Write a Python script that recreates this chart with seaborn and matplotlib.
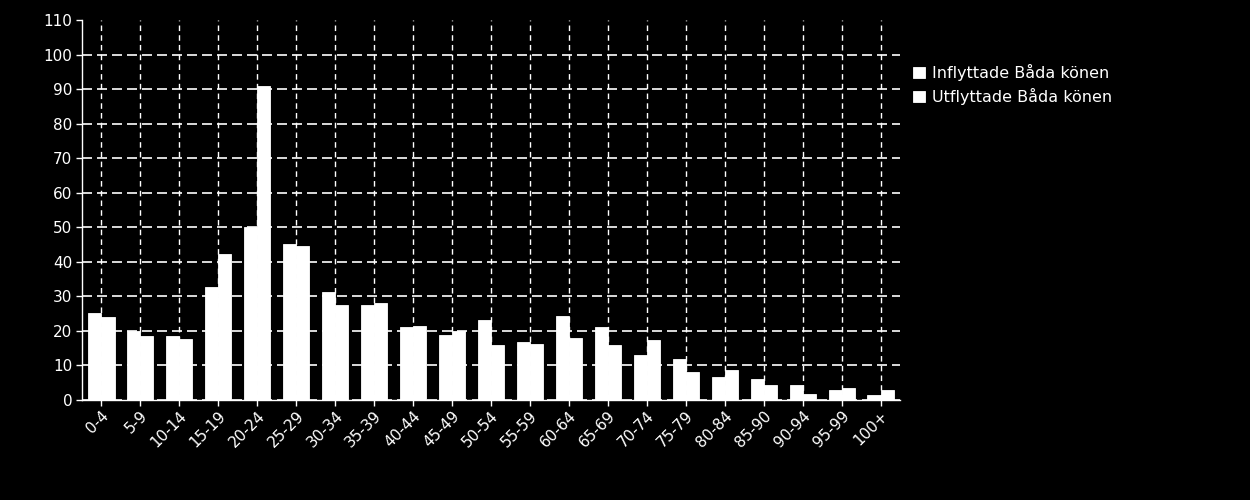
import matplotlib
matplotlib.use("Agg")
import matplotlib.pyplot as plt
import seaborn as sns
import pandas as pd

# Åldersgrupper och värden avlästa från referensbilden
age_groups = ["0-4", "5-9", "10-14", "15-19", "20-24", "25-29", "30-34", "35-39",
              "40-44", "45-49", "50-54", "55-59", "60-64", "65-69", "70-74",
              "75-79", "80-84", "85-90", "90-94", "95-99", "100+"]
inflyttade = [25.2, 20.0, 18.5, 32.7, 50.0, 45.2, 31.3, 27.5, 21.1, 18.8, 23.2,
              16.8, 24.3, 21.1, 13.0, 11.9, 6.7, 6.1, 4.3, 2.9, 1.4]
utflyttade = [24.0, 18.5, 17.7, 42.3, 91.0, 44.6, 27.5, 28.1, 21.4, 20.0, 15.9,
              16.2, 18.0, 15.9, 17.4, 8.1, 8.7, 4.3, 1.7, 3.5, 2.9]
series_names = ["Inflyttade Båda könen", "Utflyttade Båda könen"]

df = pd.DataFrame({
    "age": age_groups * 2,
    "value": inflyttade + utflyttade,
    "series": [series_names[0]] * len(age_groups) + [series_names[1]] * len(age_groups),
})

sns.set_style("dark")
plt.rcParams["font.family"] = ["DejaVu Sans"]

fig = plt.figure(figsize=(12.5, 5), dpi=100, facecolor="black")
ax = fig.add_axes([0.0656, 0.2, 0.6544, 0.76])
ax.set_facecolor("black")

sns.barplot(data=df, x="age", y="value", hue="series", order=age_groups,
            palette=["white", "white"], width=0.67, saturation=1,
            edgecolor="white", linewidth=0.6, ax=ax)

ax.set_ylim(0, 110)
ax.set_yticks(range(0, 111, 10))
ax.set_xlim(-0.5, len(age_groups) - 0.5)
ax.xaxis.grid(True, color="white", linestyle=(0, (4, 3)), linewidth=1)
ax.yaxis.grid(True, color="white", linestyle=(0, (6, 3)), linewidth=1.2)
ax.set_axisbelow(True)
# ingen stödlinje överst vid 110
ax.yaxis.get_gridlines()[-1].set_visible(False)

for side in ["top", "right"]:
    ax.spines[side].set_visible(False)
for side in ["left", "bottom"]:
    ax.spines[side].set_visible(True)
    ax.spines[side].set_color("white")
    ax.spines[side].set_linewidth(1)

ax.tick_params(axis="y", colors="white", labelsize=11, length=4, width=1, pad=3, left=True)
ax.tick_params(axis="x", colors="white", labelsize=11, length=4, width=1, pad=2, bottom=True)
plt.setp(ax.get_xticklabels(), rotation=45, ha="right", rotation_mode="anchor")
ax.set_xlabel("")
ax.set_ylabel("")

ax.legend_.remove()
handles, labels = ax.get_legend_handles_labels()
fig.legend(handles, labels, loc="upper left", bbox_to_anchor=(0.7305, 0.872),
           frameon=False, fontsize=11.5, labelcolor="white", handlelength=0.75,
           handleheight=0.75, handletextpad=0.45, labelspacing=0.45,
           borderpad=0, borderaxespad=0)

fig.savefig("out.png", dpi=100, facecolor="black")
